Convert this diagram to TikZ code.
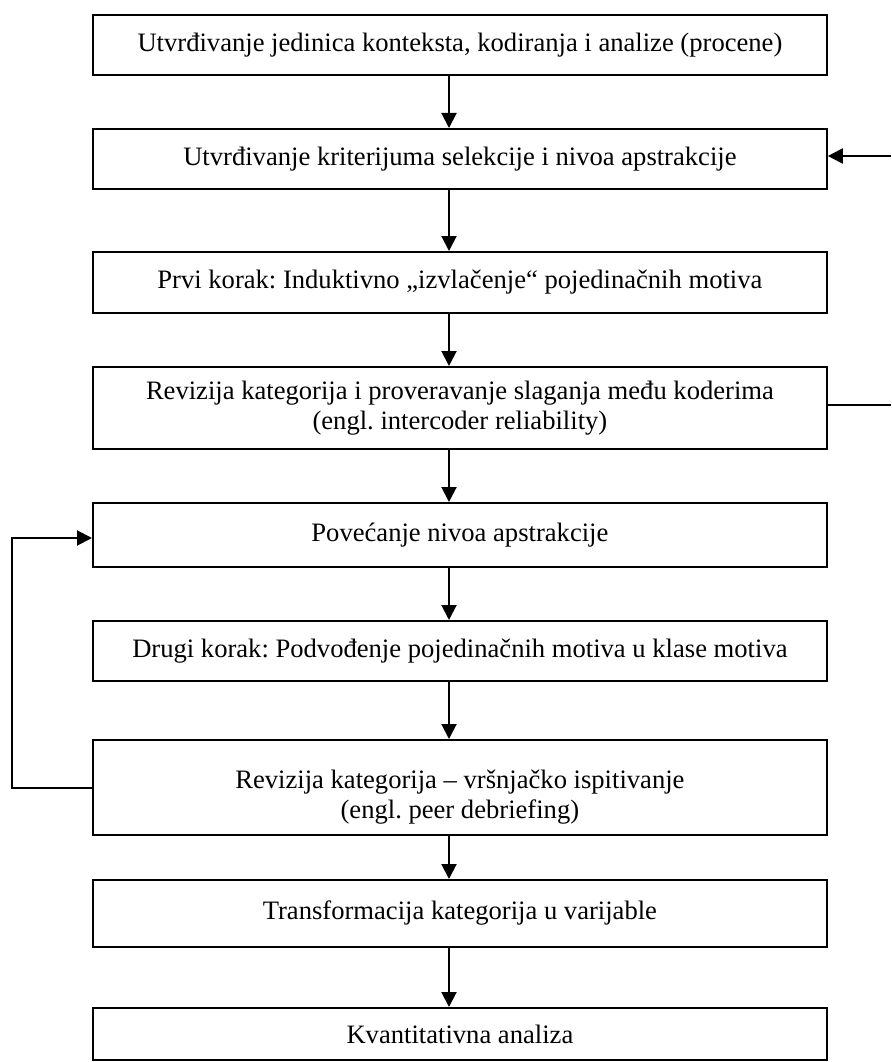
\documentclass[tikz,border=0pt]{standalone}
\usepackage{fontspec}
\setmainfont{Liberation Serif}
\usetikzlibrary{arrows.meta}
\frenchspacing
\begin{document}
\begin{tikzpicture}[x=1pt,y=-1pt,
  stepbox/.style={draw,line width=1.8pt,inner sep=0pt,align=center,
    font=\fontsize{26.6}{30.5}\selectfont},
  flow/.style={line width=2pt,-{Triangle[length=15pt,width=15pt]}},
  plain/.style={line width=2pt}]
\useasboundingbox (0,0) rectangle (891,1062);
% boxes: left 92, right 826
\newcommand{\stepnode}[4]{%
  \node[stepbox,minimum width=734pt,minimum height=#3pt,anchor=north west] (#1) at (92,#2) {#4};}
\stepnode{b1}{14}{60}{Utvrđivanje jedinica konteksta, kodiranja i analize (procene)}
\stepnode{b2}{128}{60}{Utvrđivanje kriterijuma selekcije i nivoa apstrakcije}
\stepnode{b3}{251}{61}{Prvi korak: Induktivno „izvlačenje“ pojedinačnih motiva}
\stepnode{b4}{366}{82}{Revizija kategorija i proveravanje slaganja među koderima\\(engl. intercoder reliability)}
\stepnode{b5}{502}{64}{Povećanje nivoa apstrakcije}
\stepnode{b6}{620}{60}{Drugi korak: Podvođenje pojedinačnih motiva u klase motiva}
\stepnode{b7}{739}{95}{\rule{0pt}{38pt}Revizija kategorija -- vršnjačko ispitivanje\\(engl. peer debriefing)}
\stepnode{b8}{879}{67}{Transformacija kategorija u varijable}
\stepnode{b9}{1007}{52}{Kvantitativna analiza}
% downward arrows
\foreach \a/\b in {b1/b2,b2/b3,b3/b4,b4/b5,b5/b6,b6/b7,b7/b8,b8/b9}
  \draw[flow] (\a.south -| 449,0) -- (\b.north -| 449,0);
% feedback on the right
\coordinate (rin) at (891,156);
\coordinate (rout) at (891,405);
\draw[flow] (rin) -- (rin -| b2.east);
\draw[plain] (rout -| b4.east) -- (rout);
% loop on the left
\coordinate (l1) at (12,788);
\coordinate (l2) at (12,538);
\draw[flow] (l1 -| b7.west) -- (l1) -- (l2) -- (l2 -| b5.west);
\end{tikzpicture}
\end{document}
